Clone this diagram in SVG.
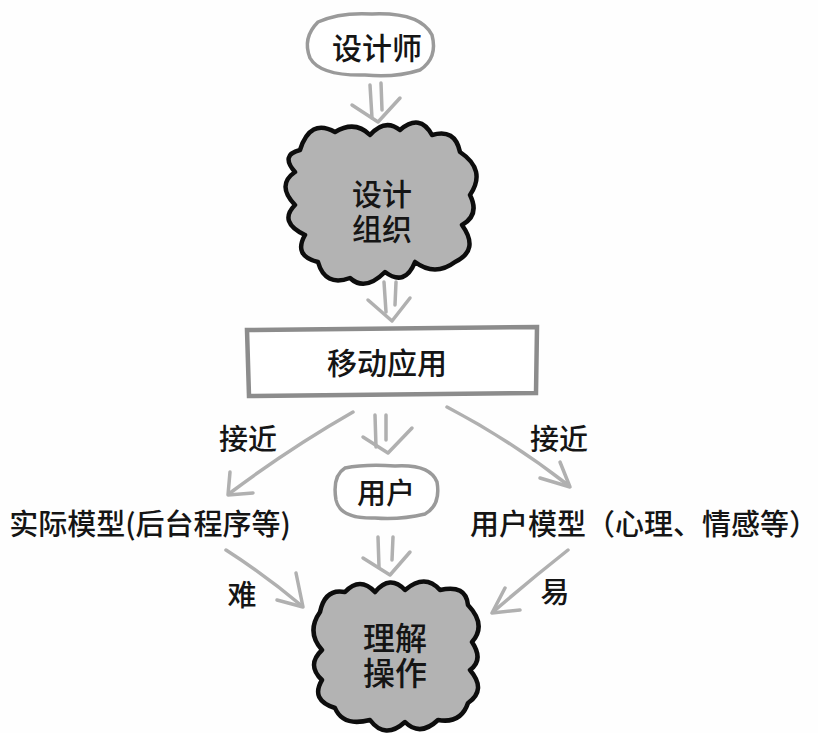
<svg xmlns="http://www.w3.org/2000/svg" width="818" height="733" viewBox="0 0 818 733">
<style>
.t{font-family:"Noto Sans CJK SC","Liberation Sans",sans-serif;font-weight:500;fill:#151515;text-anchor:middle;dominant-baseline:central}
.oval{fill:#fff;stroke:#9a9a9a;stroke-width:3.5}
.cloud{fill:#b3b3b3;stroke:#0d0d0d;stroke-width:4.5;stroke-linejoin:round}
.box{fill:#fff;stroke:#8c8c8c;stroke-width:4.5}
.a{fill:none;stroke:#b0b0b0;stroke-width:3.5;stroke-linecap:round;stroke-linejoin:round}
</style>
<rect width="818" height="733" fill="#fefefe"/>
<g id="connectors">
  <g id="c-designer-org">
    <path class="a" d="M370 85 L372 118 M381 83 L382 110"/>
    <path class="a" d="M352 105 L378 122 L400 98"/>
  </g>
  <g id="c-org-app">
    <path class="a" d="M384 282 L386 312 M396 282 L395 305"/>
    <path class="a" d="M368 300 L392 321 L410 298"/>
  </g>
  <g id="c-app-user">
    <path class="a" d="M375 415 L376 447 M386 415 L386 440"/>
    <path class="a" d="M363 437 L388 453 L412 428"/>
  </g>
  <g id="c-app-real">
    <path class="a" d="M353 412 Q290 448 230 493"/>
    <path class="a" d="M230 472 L228 495 L253 493"/>
  </g>
  <g id="c-app-usermodel">
    <path class="a" d="M447 407 Q510 440 568 485"/>
    <path class="a" d="M560 462 L570 487 L540 478"/>
  </g>
  <g id="c-real-op">
    <path class="a" d="M226 550 Q265 575 302 606"/>
    <path class="a" d="M296 573 L303 607 L277 600"/>
  </g>
  <g id="c-user-op">
    <path class="a" d="M378 537 L379 567 M393 537 L392 560"/>
    <path class="a" d="M363 558 L390 575 L410 552"/>
  </g>
  <g id="c-usermodel-op">
    <path class="a" d="M568 550 Q530 580 493 612"/>
    <path class="a" d="M505 588 L492 613 L520 610"/>
  </g>
  <text class="t" x="248" y="437" font-size="29">接近</text>
  <text class="t" x="559" y="437" font-size="29">接近</text>
  <text class="t" x="242" y="593" font-size="29">难</text>
  <text class="t" x="555" y="590" font-size="29">易</text>
</g>
<g id="designer">
  <path class="oval" d="M318 22 Q340 12 372 14 Q420 12 432 35 Q438 58 420 70 Q395 78 365 75 Q320 76 310 58 Q302 38 318 22 Z"/>
  <text class="t" x="377" y="46" font-size="30">设计师</text>
</g>
<g id="design-org">
  <path class="cloud" d="M300 150 Q310 118 335 132 Q355 120 370 135 Q385 118 400 130 Q420 113 432 135 Q455 128 460 152 Q487 170 470 195 Q480 215 462 225 Q480 250 455 262 Q435 277 415 262 Q405 287 385 272 Q365 292 350 278 Q325 287 318 262 Q293 256 305 235 Q278 222 295 205 Q276 185 295 172 Q280 155 300 150 Z"/>
  <text class="t" font-size="30"><tspan x="382" y="192">设计</tspan><tspan x="382" y="227">组织</tspan></text>
</g>
<g id="mobile-app">
  <path class="box" d="M247 330 L537 327 L536 393 L249 396 Z"/>
  <text class="t" x="387" y="361" font-size="30">移动应用</text>
</g>
<g id="user">
  <path class="oval" d="M345 468 Q365 464 395 466 Q430 464 437 482 Q441 505 425 514 Q400 520 375 518 Q340 519 336 500 Q332 476 345 468 Z"/>
  <text class="t" x="386" y="491" font-size="29">用户</text>
</g>
<g id="real-model">
  <text class="t" x="150" y="522" font-size="29">实际模型(后台程序等)</text>
</g>
<g id="user-model">
  <text class="t" x="644" y="522" font-size="29">用户模型（心理、情感等）</text>
</g>
<g id="understand-op">
  <path class="cloud" d="M320 612 Q325 588 345 592 Q360 576 375 592 Q390 574 405 590 Q425 573 440 590 Q466 584 468 605 Q487 625 472 642 Q484 660 470 670 Q487 690 468 703 Q461 724 438 720 Q420 737 405 722 Q385 740 370 720 Q343 727 335 708 Q310 700 322 680 Q306 665 322 650 Q306 632 320 612 Z"/>
  <text class="t" font-size="32"><tspan x="395" y="636">理解</tspan><tspan x="395" y="671">操作</tspan></text>
</g>
</svg>
